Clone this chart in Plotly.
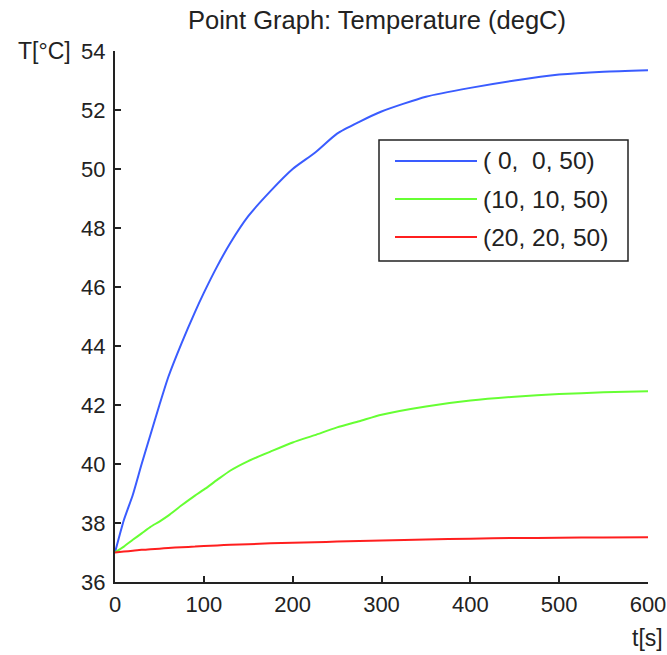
import plotly.graph_objects as go

t_s = [0, 10, 20, 30, 40, 50, 60, 75, 90, 100, 115, 130, 150, 175, 200, 225, 250,
       275, 300, 350, 400, 450, 500, 550, 600]
temp_0_0_50 = [37.0, 38.1, 38.95, 40.0, 41.0, 42.0, 42.95, 44.1, 45.15, 45.8, 46.7,
               47.5, 48.4, 49.25, 50.0, 50.55, 51.2, 51.6, 51.95, 52.45, 52.75, 53.0,
               53.2, 53.3, 53.35]
temp_10_10_50 = [37.0, 37.2, 37.43, 37.65, 37.87, 38.05, 38.25, 38.6, 38.93, 39.13,
                 39.46, 39.78, 40.1, 40.42, 40.73, 40.98, 41.24, 41.45, 41.67, 41.95,
                 42.15, 42.28, 42.37, 42.43, 42.47]
temp_20_20_50 = [37.0, 37.03, 37.06, 37.09, 37.11, 37.13, 37.15, 37.18, 37.2, 37.22,
                 37.24, 37.26, 37.28, 37.31, 37.33, 37.35, 37.37, 37.39, 37.41, 37.44,
                 37.47, 37.49, 37.5, 37.51, 37.52]
series_names = ["( 0,  0, 50)", "(10, 10, 50)", "(20, 20, 50)"]
series_colors = ["#3a5cff", "#66ff33", "#ff1f1f"]
x_ticks = [0, 100, 200, 300, 400, 500, 600]
y_ticks = [36, 38, 40, 42, 44, 46, 48, 50, 52, 54]

FONT = "Liberation Sans, Arial, sans-serif"
TXT = "#222"

W, H = 667, 655
ml, mr, mt, mb = 115, 19, 51, 73
pw, ph = W - ml - mr, H - mt - mb
def px(x):
    return (x - ml) / pw
def py(y):
    return 1 - (y - mt) / ph

fig = go.Figure()
for ys, name, col in zip([temp_0_0_50, temp_10_10_50, temp_20_20_50], series_names, series_colors):
    fig.add_trace(go.Scatter(x=t_s, y=ys, mode="lines", name=name,
                             line=dict(color=col, width=2, shape="spline", smoothing=0.6),
                             showlegend=False))

fig.update_layout(
    width=W, height=H,
    margin=dict(l=ml, r=mr, t=mt, b=mb),
    plot_bgcolor="white", paper_bgcolor="white",
    font=dict(family=FONT, size=22, color=TXT),
    showlegend=False,
    title=dict(text="Point Graph: Temperature (degC)", x=377 / W, xanchor="center",
               y=1 - 20 / H, yanchor="middle", font=dict(size=25.5, family=FONT, color=TXT)),
)
axis_style = dict(ticks="inside", ticklen=6, tickwidth=1.5, tickcolor=TXT,
                  showline=True, linecolor=TXT, linewidth=2, automargin=False,
                  showgrid=False, zeroline=False, tickfont=dict(size=22, family=FONT, color=TXT))
fig.update_xaxes(range=[0, 600], tickvals=x_ticks, ticklabelstandoff=2, **axis_style)
fig.update_yaxes(range=[36, 54], tickvals=y_ticks, ticklabelstandoff=3, **axis_style)

# axis unit labels
fig.add_annotation(text="T[°C]", xref="paper", yref="paper", x=px(73), y=py(51),
                   xanchor="right", yanchor="middle", showarrow=False,
                   font=dict(size=23, family=FONT, color=TXT))
fig.add_annotation(text="t[s]", xref="paper", yref="paper", x=px(665), y=py(638),
                   xanchor="right", yanchor="middle", showarrow=False,
                   font=dict(size=23, family=FONT, color=TXT))

# legend box (drawn)
lx0, lx1, ly0, ly1 = 379, 628, 140, 261
fig.add_shape(type="rect", xref="paper", yref="paper", x0=px(lx0), x1=px(lx1),
              y0=py(ly1), y1=py(ly0), line=dict(color=TXT, width=1.5), fillcolor="white")
rows = [161, 199, 237]
for ry, name, col in zip(rows, series_names, series_colors):
    fig.add_shape(type="line", xref="paper", yref="paper", x0=px(395), x1=px(477),
                  y0=py(ry), y1=py(ry), line=dict(color=col, width=2))
    fig.add_annotation(text=name, xref="paper", yref="paper", x=px(481), y=py(ry),
                       xanchor="left", yanchor="middle", showarrow=False,
                       font=dict(size=24.5, family=FONT, color=TXT))

fig.write_html("out.html")
